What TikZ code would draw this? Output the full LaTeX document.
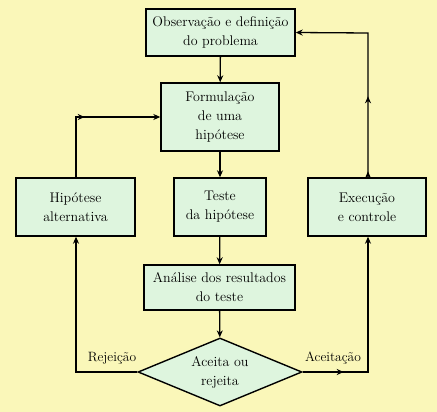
\documentclass[tikz,border=0pt]{standalone}
\usepackage{fontspec}
\usetikzlibrary{shapes.geometric,arrows.meta,decorations.markings}
\definecolor{bgc}{RGB}{250,247,185}
\definecolor{boxc}{RGB}{222,245,222}
\begin{document}
\begin{tikzpicture}[x=1pt,y=-1pt,
  every node/.style={font=\fontsize{14}{19}\selectfont, align=center, inner sep=0pt},
  box/.style={draw, fill=boxc, line width=1.4pt},
  line/.style={line width=1.3pt},
  tip/.style={-{Stealth[length=7pt,width=6pt]}},
  arr/.style={line, tip},
  lbl/.style={font=\fontsize{13.5}{15}\selectfont}]
\fill[bgc] (0,0) rectangle (437,412);
\useasboundingbox (0,0) rectangle (437,412);
\node[box, minimum width=149pt, minimum height=47pt] (obs) at (220.5,32.5) {Observação e definição\\do problema};
\node[box, minimum width=118pt, minimum height=68pt] (form) at (220,117) {Formulação\\de uma\\hipótese};
\node[box, minimum width=119pt, minimum height=58pt] (alt) at (75.5,207) {Hipótese\\alternativa};
\node[box, minimum width=92pt, minimum height=58pt] (teste) at (220,207) {Teste\\da hipótese};
\node[box, minimum width=118pt, minimum height=58pt] (exec) at (367,207) {Execução\\e controle};
\node[box, minimum width=151pt, minimum height=45pt] (anal) at (219.5,287.5) {Análise dos resultados\\do teste};
\node[box, diamond, minimum width=164pt, minimum height=68pt, aspect=2.4] (dec) at (220,372) {Aceita ou\\rejeita};
\coordinate (cl) at (76,372);
\coordinate (ct) at (76,117);
\coordinate (cr) at (368,372);
\coordinate (crt) at (368,33);
\draw[arr] (obs) -- (form);
\draw[arr] (form) -- (teste);
\draw[arr] (teste) -- (anal);
\draw[arr] (anal) -- (dec);
\draw[arr] (dec.west) -- (cl) -- (alt.south -| cl);
\draw[arr, postaction={decorate}, decoration={markings, mark=at position 69pt with {\arrow{Stealth[length=7pt,width=6pt]}}}] (alt.north -| ct) -- (ct) -- (form.west);
\draw[arr, postaction={decorate}, decoration={markings, mark=at position 41pt with {\arrow{Stealth[length=7pt,width=6pt]}}}] (dec.east) -- (cr) -- (exec.south -| cr);
\draw[arr, postaction={decorate}, decoration={markings,
   mark=at position 6pt with {\arrow{Stealth[length=7pt,width=6pt]}},
   mark=at position 81pt with {\arrow{Stealth[length=7pt,width=6pt]}}}] (exec.north -| crt) -- (crt) -- (obs.east);
\node[lbl, anchor=base] (rej) at (112,361) {Rejeição};
\node[lbl, anchor=base] (ace) at (333,361) {Aceitação};
\end{tikzpicture}
\end{document}
